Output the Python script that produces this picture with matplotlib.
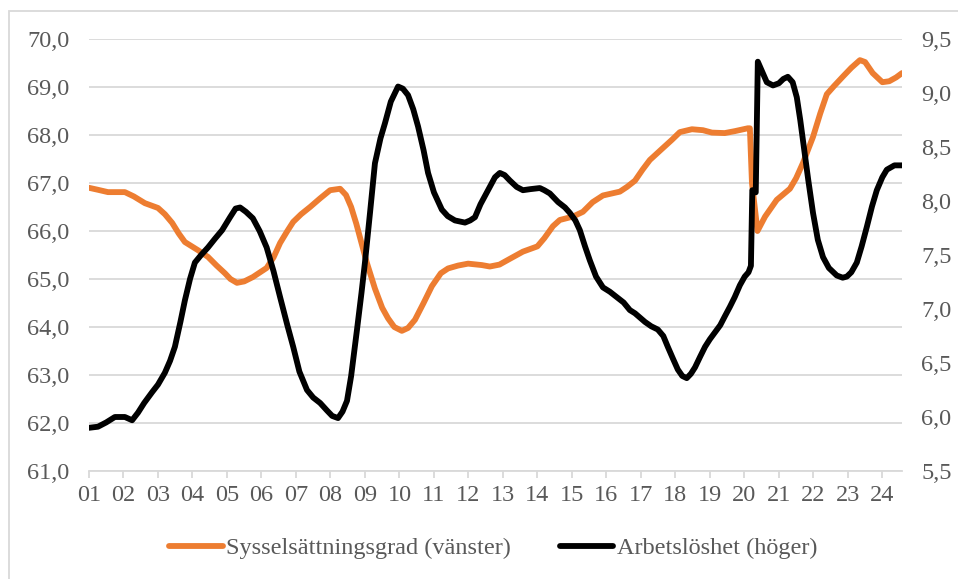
import matplotlib
matplotlib.use("Agg")
import matplotlib.pyplot as plt
from matplotlib.patches import Rectangle
from matplotlib.ticker import FuncFormatter

plt.rcParams['font.family'] = ['Liberation Serif', 'DejaVu Serif']

# Sysselsättningsgrad (vänster axel), år som decimaltal
emp_year = [2001.0, 2001.25, 2001.55, 2002.04, 2002.3, 2002.62, 2003.0, 2003.2, 2003.41, 2003.6,
            2003.78, 2004.16, 2004.45, 2004.7, 2004.94, 2005.1, 2005.29, 2005.5, 2005.75, 2006.15,
            2006.35, 2006.54, 2006.75, 2006.92, 2007.15, 2007.41, 2007.7, 2007.99, 2008.28, 2008.45,
            2008.6, 2008.75, 2008.9, 2009.05, 2009.29, 2009.5, 2009.67, 2009.85, 2010.07, 2010.25,
            2010.45, 2010.7, 2010.94, 2011.2, 2011.41, 2011.7, 2011.99, 2012.39, 2012.62, 2012.9,
            2013.2, 2013.58, 2014.0, 2014.2, 2014.45, 2014.65, 2015.03, 2015.32, 2015.6, 2015.9,
            2016.39, 2016.6, 2016.83, 2017.05, 2017.26, 2017.64, 2017.9, 2018.13, 2018.48, 2018.8,
            2019.06, 2019.43, 2019.72, 2020.1, 2020.16, 2020.22, 2020.38, 2020.6, 2020.94, 2021.32,
            2021.5, 2021.7, 2021.99, 2022.2, 2022.39, 2022.6, 2022.86, 2023.1, 2023.35, 2023.5,
            2023.72, 2024.0, 2024.2, 2024.4, 2024.57]
emp_rate = [66.90, 66.86, 66.81, 66.81, 66.72, 66.58, 66.48, 66.35, 66.17, 65.95,
            65.77, 65.60, 65.46, 65.28, 65.12, 65.00, 64.92, 64.95, 65.04, 65.23,
            65.45, 65.75, 66.00, 66.19, 66.35, 66.50, 66.68, 66.85, 66.88, 66.75,
            66.50, 66.15, 65.75, 65.35, 64.80, 64.40, 64.18, 64.00, 63.92, 63.98,
            64.15, 64.50, 64.85, 65.12, 65.22, 65.28, 65.32, 65.29, 65.26, 65.30,
            65.42, 65.57, 65.68, 65.85, 66.10, 66.23, 66.30, 66.40, 66.60, 66.74,
            66.82, 66.92, 67.05, 67.28, 67.48, 67.73, 67.90, 68.06, 68.12, 68.10,
            68.05, 68.04, 68.08, 68.14, 68.14, 67.00, 66.00, 66.30, 66.65, 66.88,
            67.10, 67.42, 67.96, 68.45, 68.85, 69.02, 69.22, 69.40, 69.56, 69.52,
            69.29, 69.10, 69.12, 69.20, 69.29]

# Arbetslöshet (höger axel)
unemp_year = [2001.0, 2001.26, 2001.5, 2001.75, 2002.04, 2002.25, 2002.42, 2002.6, 2002.83, 2003.0,
              2003.2, 2003.35, 2003.49, 2003.65, 2003.78, 2003.93, 2004.07, 2004.25, 2004.45, 2004.65,
              2004.86, 2005.09, 2005.25, 2005.38, 2005.55, 2005.75, 2005.95, 2006.15, 2006.35, 2006.54,
              2006.75, 2006.92, 2007.1, 2007.32, 2007.5, 2007.7, 2007.9, 2008.05, 2008.22, 2008.35,
              2008.48, 2008.6, 2008.77, 2008.9, 2009.0, 2009.15, 2009.29, 2009.45, 2009.58, 2009.75,
              2009.96, 2010.1, 2010.25, 2010.4, 2010.54, 2010.7, 2010.83, 2011.0, 2011.23, 2011.4,
              2011.61, 2011.9, 2012.05, 2012.19, 2012.35, 2012.57, 2012.77, 2012.91, 2013.05, 2013.2,
              2013.4, 2013.58, 2013.8, 2014.07, 2014.2, 2014.36, 2014.6, 2014.8, 2014.94, 2015.1,
              2015.23, 2015.38, 2015.52, 2015.7, 2015.9, 2016.1, 2016.3, 2016.5, 2016.68, 2016.83,
              2017.12, 2017.3, 2017.49, 2017.65, 2017.78, 2017.93, 2018.07, 2018.2, 2018.33, 2018.45,
              2018.57, 2018.72, 2018.86, 2019.0, 2019.14, 2019.3, 2019.43, 2019.58, 2019.72, 2019.87,
              2020.01, 2020.12, 2020.19, 2020.23, 2020.33, 2020.39, 2020.5, 2020.65, 2020.83, 2021.0,
              2021.13, 2021.26, 2021.4, 2021.52, 2021.62, 2021.7, 2021.85, 2021.99, 2022.13, 2022.28,
              2022.45, 2022.68, 2022.85, 2022.97, 2023.1, 2023.26, 2023.4, 2023.55, 2023.7, 2023.84,
              2024.0, 2024.13, 2024.35, 2024.57]
unemp_rate = [5.90, 5.91, 5.95, 6.00, 6.00, 5.97, 6.04, 6.13, 6.23, 6.30,
              6.41, 6.52, 6.65, 6.88, 7.08, 7.28, 7.43, 7.50, 7.57, 7.65,
              7.73, 7.85, 7.93, 7.94, 7.90, 7.84, 7.72, 7.57, 7.35, 7.11,
              6.85, 6.65, 6.42, 6.25, 6.18, 6.13, 6.06, 6.01, 5.99, 6.05,
              6.15, 6.38, 6.81, 7.15, 7.43, 7.90, 8.35, 8.58, 8.72, 8.92,
              9.06, 9.04, 8.98, 8.85, 8.69, 8.47, 8.26, 8.08, 7.92, 7.86,
              7.82, 7.80, 7.82, 7.85, 7.97, 8.10, 8.22, 8.26, 8.24, 8.19,
              8.13, 8.10, 8.11, 8.12, 8.10, 8.07, 7.99, 7.94, 7.89, 7.82,
              7.73, 7.58, 7.45, 7.30, 7.20, 7.16, 7.11, 7.06, 6.99, 6.96,
              6.88, 6.84, 6.81, 6.75, 6.65, 6.54, 6.44, 6.38, 6.36, 6.40,
              6.46, 6.56, 6.65, 6.72, 6.78, 6.85, 6.93, 7.02, 7.11, 7.22,
              7.30, 7.34, 7.40, 8.10, 8.08, 9.29, 9.21, 9.10, 9.07, 9.09,
              9.13, 9.15, 9.10, 8.96, 8.75, 8.56, 8.20, 7.89, 7.64, 7.48,
              7.38, 7.31, 7.29, 7.30, 7.34, 7.43, 7.58, 7.76, 7.95, 8.10,
              8.22, 8.29, 8.33, 8.33]

years = list(range(2001, 2025))
year_labels = ['%02d' % (y % 100) for y in years]
left_ticks = [61, 62, 63, 64, 65, 66, 67, 68, 69, 70]
right_ticks = [5.5, 6.0, 6.5, 7.0, 7.5, 8.0, 8.5, 9.0, 9.5]

orange = '#ED7D31'
grey_txt = '#595959'
grey_line = '#D9D9D9'
fs = 17.5

fig = plt.figure(figsize=(9.58, 5.79), dpi=100)
ax = fig.add_axes([89/958, 1-471/579, (902-89)/958, (471-39)/579])
ax2 = ax.twinx()

ax.plot(emp_year, emp_rate, color=orange, lw=4.2, solid_joinstyle='round',
        solid_capstyle='round', label='Sysselsättningsgrad (vänster)')
ax2.plot(unemp_year, unemp_rate, color='black', lw=4.2, solid_joinstyle='round',
         solid_capstyle='round', label='Arbetslöshet (höger)')

ax.set_xlim(2001, 2024.57)
ax.set_ylim(61, 70)
ax2.set_ylim(5.5, 9.5)

comma = FuncFormatter(lambda v, p: ('%.1f' % v).replace('.', ','))
ax.set_yticks(left_ticks)
ax.yaxis.set_major_formatter(comma)
ax2.set_yticks(right_ticks)
ax2.yaxis.set_major_formatter(comma)
ax.set_xticks(years)
ax.set_xticklabels(year_labels)

ax.grid(axis='y', color=grey_line, lw=1.3)
ax.set_axisbelow(True)
for a in (ax, ax2):
    for s in a.spines.values():
        s.set_visible(False)
ax.spines['bottom'].set_visible(True)
ax.spines['bottom'].set_color(grey_line)
ax.spines['bottom'].set_linewidth(1.3)

ax.tick_params(axis='x', colors=grey_line, length=5, width=1.3, pad=5, labelsize=fs,
               labelcolor=grey_txt)
ax.tick_params(axis='y', length=0, pad=14, labelsize=fs, labelcolor=grey_txt)
ax2.tick_params(axis='y', length=0, pad=14, labelsize=fs, labelcolor=grey_txt)

h1, l1 = ax.get_legend_handles_labels()
h2, l2 = ax2.get_legend_handles_labels()
fig.legend(h1 + h2, l1 + l2, loc='center', bbox_to_anchor=(0.515, 1-548/579), ncol=2,
           frameon=False, fontsize=fs, labelcolor=grey_txt, handlelength=2.2,
           handletextpad=0.15, columnspacing=2.0)

fig.patches.append(Rectangle((9/958, -0.05), 1.0, 1-11/579+0.05, transform=fig.transFigure,
                             fill=False, edgecolor=grey_line, lw=1.3))

fig.savefig('out.png', dpi=100)
